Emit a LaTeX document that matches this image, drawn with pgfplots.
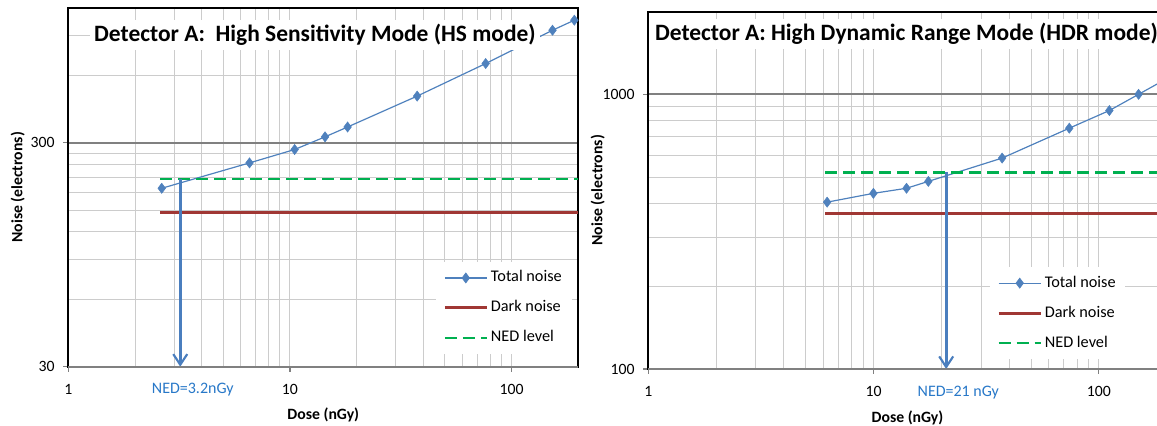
\documentclass[border=0pt]{standalone}
\usepackage{fontspec}
\setmainfont{Carlito}
\usepackage{pgfplots}
\pgfplotsset{compat=1.18}
\usetikzlibrary{arrows.meta}

\definecolor{totalblue}{RGB}{79,129,189}
\definecolor{arrowblue}{RGB}{74,126,190}
\definecolor{darkred}{RGB}{160,55,52}
\definecolor{nedgreen}{RGB}{0,176,80}
\definecolor{majorgrid}{RGB}{128,128,128}
\definecolor{minorgrid}{RGB}{204,204,204}
\definecolor{nedtext}{RGB}{40,120,200}

% shared look of both detector panels
\pgfplotsset{
  scale only axis, clip mode=individual,
  xmajorgrids=false, xminorgrids=true,
  ymajorgrids=true, yminorgrids=true,
  major grid style={majorgrid, line width=1.35pt},
  minor grid style={minorgrid, line width=0.75pt},
  axis line style={black, line width=1.4pt},
  tick align=outside, major tick length=3.75pt, minor tick length=0pt,
  tick style={majorgrid, line width=0.9pt},
  xtick pos=bottom, ytick pos=left,
  tick label style={font=\fontsize{11.8pt}{14pt}\selectfont},
  xticklabel style={anchor=center, yshift=-13pt},
  yticklabel style={anchor=east, xshift=-3pt},
  every axis x label/.style={at={(rel axis cs:0.5,0)}, anchor=center,
    yshift=-36.5pt, font=\bfseries\fontsize{11.8pt}{14pt}\selectfont},
  every axis y label/.style={at={(rel axis cs:0,0.5)}, xshift=-38pt,
    rotate=90, anchor=center, font=\bfseries\fontsize{11.8pt}{14pt}\selectfont},
  legend cell align=left,
  legend style={anchor=north west, draw=none, fill=white,
    font=\fontsize{12.2pt}{14pt}\selectfont,
    inner xsep=5.3pt, inner ysep=5.2pt, row sep=9.3pt,
    nodes={inner sep=2pt, text height=7.5pt, text depth=1.7pt}},
  legend image code/.code={\draw[mark repeat=2, mark phase=2, #1]
    plot coordinates {(0pt,0pt) (15.75pt,0pt) (31.5pt,0pt)};},
}
\tikzset{
  totalline/.style={totalblue, line width=0.9pt, mark=diamond*,
    mark size=3.8pt, mark options={fill=totalblue, draw=totalblue, line width=0.4pt}},
  darkline/.style={darkred, line width=2.2pt},
  nedline/.style={nedgreen, line width=2pt, dash pattern=on 9pt off 4.5pt},
  nedarrow/.style={arrowblue, line width=2pt,
    -{Straight Barb[length=8pt, width=10.5pt, line width=1.6pt]}},
  titlenode/.style={fill=white, inner xsep=3pt, minimum height=22.5pt,
    anchor=center, font=\bfseries\fontsize{17.6pt}{20pt}\selectfont},
  nedlabel/.style={nedtext, font=\fontsize{12pt}{14pt}\selectfont, anchor=center},
}

\begin{document}
\begin{tikzpicture}
\useasboundingbox (0,0) rectangle (867.75pt,318.75pt);
\clip (0,0) rectangle (867.75pt,318.75pt);

% High Sensitivity mode
\begin{axis}[
  at={(51.225pt,43.725pt)}, anchor=south west,
  width=382.5pt, height=269pt,
  xmode=log, ymode=log,
  xmin=1, xmax=200,
  xtick={1,10,100}, xticklabels={1,10,100},
  minor xtick={2,3,4,5,6,7,8,9,10,20,30,40,50,60,70,80,90,100,200},
  ymin=30, ymax=1200,
  ytick={30,300}, yticklabels={30,300},
  minor ytick={60,90,120,150,180,210,240,270,600,900,1200},
  xlabel={Dose (nGy)}, ylabel={Noise (electrons)},
  legend style={at={(rel axis cs:0.721,0.292)}},
]
\addplot[totalline] coordinates {
  (2.64,188) (6.57,244) (10.5,280) (14.4,319) (18.2,353)
  (37.5,485) (76.4,678) (153,955) (192,1059)};
\addlegendentry{Total noise}
\addplot[darkline] coordinates {(2.6,146.6) (200,146.6)};
\addlegendentry{Dark noise}
\addplot[nedline] coordinates {(2.6,206.6) (200,206.6)};
\addlegendentry{NED level}
\addplot[nedarrow, forget plot] coordinates {(3.2,206.6) (3.2,30)};
\draw[majorgrid, line width=1.7pt] (rel axis cs:0,0) -- (rel axis cs:1,0);
\node[titlenode] at (rel axis cs:0.4837,0.925)
  {Detector A:\ \ High Sensitivity Mode (HS mode)};
\node[nedlabel] at ([yshift=-17pt]axis cs:3.645,30) {NED=3.2nGy};
\end{axis}

% High Dynamic Range mode
\begin{axis}[
  at={(486.225pt,42pt)}, anchor=south west,
  width=388.8pt, height=268pt,
  xmode=log, ymode=log,
  xmin=1, xmax=200,
  xtick={1,10,100}, xticklabels={1,10,100},
  minor xtick={2,3,4,5,6,7,8,9,10,20,30,40,50,60,70,80,90,100,200},
  ymin=100, ymax=2000,
  ytick={100,1000}, yticklabels={100,1000},
  minor ytick={200,300,400,500,600,700,800,900,2000},
  xlabel={Dose (nGy)}, ylabel={Noise (electrons)},
  legend style={at={(rel axis cs:0.659,0.285)}},
]
\addplot[totalline] coordinates {
  (6.22,405) (9.98,436) (14.0,455) (17.5,482) (37.2,586)
  (73.9,753) (111.3,873) (150,1000) (195,1127)};
\addlegendentry{Total noise}
\addplot[darkline] coordinates {(6.1,369) (200,369)};
\addlegendentry{Dark noise}
\addplot[nedline] coordinates {(6.1,520) (200,520)};
\addlegendentry{NED level}
\addplot[nedarrow, forget plot] coordinates {(21,520) (21,100)};
\draw[majorgrid, line width=1.7pt] (rel axis cs:0,0) -- (rel axis cs:1,0);
\node[titlenode] at (rel axis cs:0.498,0.9376)
  {Detector A: High Dynamic Range Mode (HDR mode)};
\node[nedlabel] at ([yshift=-17.5pt]axis cs:23.77,100) {NED=21 nGy};
\end{axis}
\end{tikzpicture}
\end{document}
